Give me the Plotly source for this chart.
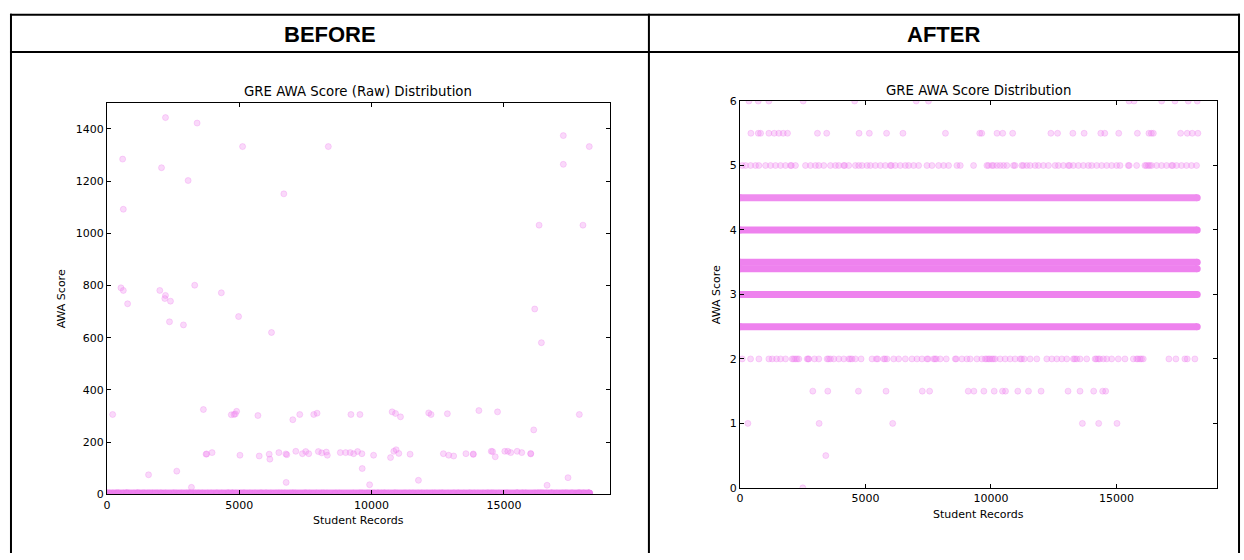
import plotly.graph_objects as go

W, H = 1244, 560

# ---------------- data ----------------
# AFTER: score levels that are densely filled across all student records
band_scores = [4.5, 4.0, 3.5, 3.4, 3.0, 2.5]
band_start = [0, 0, 0, 0, 0, 0]
band_end = [18220, 18220, 18220, 18220, 18220, 18220]

# AFTER: sparse score levels (record index of each visible point)
rec_score_6 = [358, 731, 1153, 2520, 4571, 7024, 7513, 15503, 15702, 16803, 17332, 17864, 18222]
rec_score_55 = [437, 731, 823, 1153, 1367, 1550, 1725, 1896, 3089, 3458, 4746, 5156, 5843, 6495,
                8189, 9555, 9636, 10244, 10470, 10867, 12390, 12656, 13265, 13715, 14378, 14537,
                15093, 15836, 16297, 16393, 16472, 17558, 17824, 18023, 18246]
rec_score_5 = [93, 225, 424, 623, 756, 1021, 1220, 1419, 1618, 1817, 2016, 2050, 2214, 2612, 2811,
               3010, 3143, 3342, 3607, 3806, 3938, 4137, 4170, 4336, 4601, 4734, 4866, 5065, 5198,
               5397, 5596, 5795, 5994, 6030, 6192, 6391, 6590, 6723, 6922, 7121, 7452, 7651, 7916,
               8115, 8314, 8646, 8778, 9309, 9839, 9900, 10038, 10100, 10237, 10369, 10502, 10634,
               10900, 10960, 11231, 11290, 11430, 11563, 11762, 11894, 12093, 12292, 12557, 12690,
               12889, 13088, 13130, 13286, 13485, 13684, 13883, 14016, 14215, 14413, 14613, 14811,
               15010, 15143, 15474, 15510, 15806, 16137, 16190, 16270, 16330, 16403, 16601, 16800,
               16999, 17198, 17240, 17397, 17596, 17795, 17994, 18193]
rec_score_2 = [93, 424, 756, 1154, 1286, 1459, 1618, 1817, 2082, 2140, 2214, 2280, 2347, 2679, 2720,
               2745, 2970, 3143, 3474, 3530, 3607, 3739, 3938, 4137, 4336, 4400, 4469, 4601, 4827,
               5264, 5437, 5490, 5728, 5780, 5861, 6126, 6325, 6590, 6855, 7054, 7253, 7452, 7500,
               7717, 7770, 7823, 7982, 8221, 8579, 8620, 8844, 9043, 9176, 9441, 9640, 9773, 9830,
               9905, 9960, 10038, 10100, 10171, 10369, 10568, 10767, 10966, 11165, 11220, 11324,
               11563, 11828, 12226, 12425, 12624, 12822, 13021, 13286, 13340, 13419, 13552, 13817,
               14149, 14200, 14281, 14340, 14480, 14613, 14811, 15076, 15342, 15673, 15806, 15860,
               15939, 16000, 16071, 17092, 17371, 17729, 17822, 18127]
rec_score_15 = [2904, 3501, 4721, 5821, 7266, 7558, 9096, 9322, 9720, 10131, 10462, 10581, 11072,
                11496, 12000, 13074, 13551, 14095, 14453, 14573]
rec_score_1 = [318, 3156, 6086, 13645, 14294, 15024]
rec_score_05 = [3421]
rec_score_0 = [2506]

# BEFORE: raw outlier scores (record index, raw score)
raw_rec = [2212, 3406, 5125, 8365, 592, 2061, 3067, 6684, 618, 528, 618, 1997, 2212, 2186, 2400,
           780, 3316, 4322, 4974, 2363, 2890, 6218, 17246, 18226, 17246, 16330, 17988, 16165, 16417,
           215, 3644, 4700, 4800, 4900, 4850, 5704, 7286, 7023, 7814, 7939, 9220, 9560,
           10777, 10904, 11092, 12158, 12246, 12864, 14055, 14759, 17850, 16127,
           3745, 3768, 3971, 5025, 5753, 6130, 6156, 6496, 6760, 6797, 7136, 7386, 7512, 7625,
           7988, 8116, 8289, 8327, 8817, 9020, 9193, 9321, 9472, 9634,
           10075, 10716, 10840, 10927, 11029, 11455, 12713, 12913, 13101, 13565, 13843, 13843,
           14522, 14571, 14673, 15034, 15147, 15260, 15501, 15674, 16014, 16014,
           9646, 1571, 2638, 3192, 6772, 9925, 11770, 16631, 17423]
raw_score = [1443, 1422, 1332, 1332, 1284, 1251, 1202, 1151, 1092, 791, 781, 781, 762, 750, 740,
             730, 801, 772, 681, 661, 649, 620, 1374, 1332, 1264, 1031, 1031, 710, 581,
             306, 325, 305, 306, 318, 308, 302, 306, 286, 306, 311, 306, 306,
             316, 310, 297, 312, 306, 309, 321, 316, 306, 247,
             154, 155, 160, 150, 147, 154, 135, 160, 155, 152, 165, 156, 164, 156,
             164, 159, 162, 150, 160, 160, 160, 156, 164, 156,
             150, 141, 165, 171, 157, 154, 156, 150, 147, 156, 155, 153,
             165, 164, 144, 165, 165, 160, 165, 160, 155, 157,
             99, 75, 89, 27, 46, 37, 54, 35, 64]

x_ticks = [0, 5000, 10000, 15000]
x_tick_text = ["0", "5000", "10000", "15000"]
before_y_ticks = [0, 200, 400, 600, 800, 1000, 1200, 1400]
after_y_ticks = [0, 1, 2, 3, 4, 5, 6]

# ---------------- build ----------------
sparse_levels = [(6.0, rec_score_6), (5.5, rec_score_55), (5.0, rec_score_5), (2.0, rec_score_2),
                 (1.5, rec_score_15), (1.0, rec_score_1), (0.5, rec_score_05), (0.0, rec_score_0)]
sp_x, sp_y = [], []
for lvl, recs in sparse_levels:
    sp_x += recs
    sp_y += [lvl] * len(recs)

VIOLET = "rgb(238,130,238)"
PT = "rgba(238,130,238,0.3)"
band_color = {4.5: "rgb(239,140,239)"}
BAND_W = 7

fig = go.Figure()


def add_bands(xa, ya):
    for s, a, b in zip(band_scores, band_start, band_end):
        c = band_color.get(s, VIOLET)
        fig.add_trace(go.Scatter(x=[a, b], y=[s, s], mode="lines+markers", xaxis=xa, yaxis=ya,
                                 line=dict(color=c, width=BAND_W),
                                 marker=dict(size=BAND_W, color=c, line=dict(width=0)),
                                 hoverinfo="skip", showlegend=False))


def add_points(xs, ys, xa, ya):
    fig.add_trace(go.Scatter(x=xs, y=ys, mode="markers", xaxis=xa, yaxis=ya,
                             marker=dict(size=6, color=PT, line=dict(color=PT, width=1)),
                             showlegend=False))


# BEFORE panel (raw values: the regular scores sit at the bottom, plus outliers)
add_bands("x", "y")
add_points(sp_x, sp_y, "x", "y")
add_points(raw_rec, raw_score, "x", "y")
# AFTER panel
add_bands("x2", "y2")
add_points(sp_x, sp_y, "x2", "y2")


def px(x):
    return x / W


def py(y):
    return 1 - y / H


axis_common = dict(showgrid=False, zeroline=False, showline=True, linecolor="black", linewidth=1.2,
                   mirror="allticks", ticks="inside", ticklen=4, tickwidth=1, tickcolor="black",
                   tickfont=dict(family="DejaVu Sans", size=11, color="black"))

fig.update_layout(
    width=W, height=H, margin=dict(l=0, r=0, t=0, b=0),
    paper_bgcolor="white", plot_bgcolor="white",
    xaxis=dict(domain=[px(103.3), px(607.7)], range=[0, 19000], tickvals=x_ticks, ticktext=x_tick_text,
               anchor="y", **axis_common),
    yaxis=dict(domain=[py(500), py(99)], range=[0, 1500], tickvals=before_y_ticks, anchor="x", **axis_common),
    xaxis2=dict(domain=[px(738.3), px(1216.7)], range=[0, 19000], tickvals=x_ticks, ticktext=x_tick_text,
                anchor="y2", **axis_common),
    yaxis2=dict(domain=[py(493.3), py(97.3)], range=[0, 6], tickvals=after_y_ticks, anchor="x2", **axis_common),
)

LBL = dict(family="DejaVu Sans", size=11, color="black")
HDR = dict(family="Liberation Sans", size=22, color="black")
ann = [
    dict(text="<b>BEFORE</b>", x=px(327), y=py(29), font=HDR),
    dict(text="<b>AFTER</b>", x=px(943), y=py(29), font=HDR),
    dict(text="GRE AWA Score (Raw) Distribution", x=px(355.5), y=py(88), font=dict(LBL, size=13.3)),
    dict(text="GRE AWA Score Distribution", x=px(977.5), y=py(87), font=dict(LBL, size=13.3)),
    dict(text="Student Records", x=px(355.5), y=py(527), font=LBL),
    dict(text="Student Records", x=px(977.5), y=py(520.5), font=LBL),
    dict(text="AWA Score", x=px(58), y=py(299.5), font=LBL, textangle=-90),
    dict(text="AWA Score", x=px(715), y=py(295.3), font=LBL, textangle=-90),
]
for a in ann:
    a.update(xref="paper", yref="paper", showarrow=False, xanchor="center", yanchor="middle")
fig.update_layout(annotations=ann)

LW = 2
lines = [
    (6, 9, 1240, 9),
    (6, 47, 1240, 47),
    (7, 8, 7, 560),
    (647, 8, 647, 560),
    (1239, 8, 1239, 560),
]
fig.update_layout(shapes=[dict(type="line", xref="paper", yref="paper", x0=px(a), y0=py(b), x1=px(c), y1=py(d),
                               line=dict(color="black", width=LW)) for a, b, c, d in lines])

fig.write_html("out.html", post_script="document.body.style.margin='0px';")
